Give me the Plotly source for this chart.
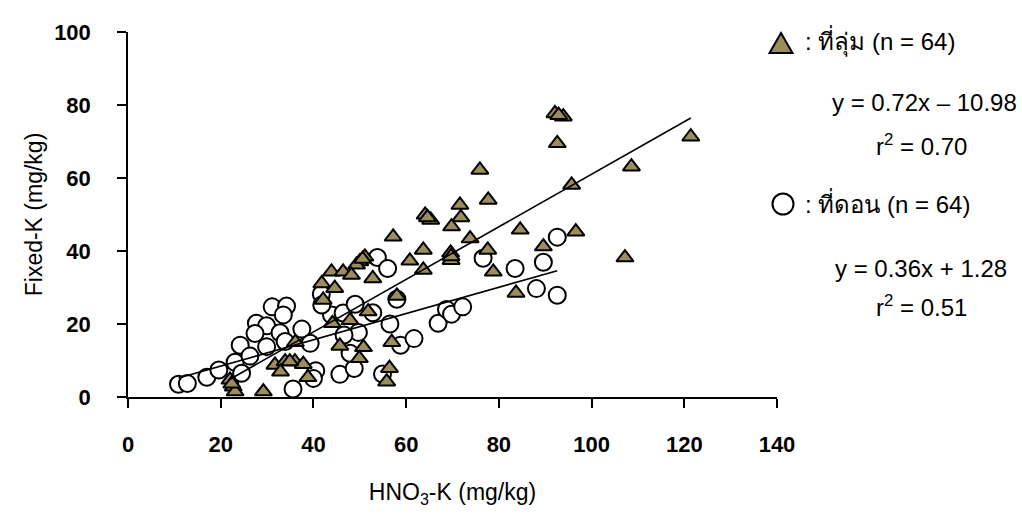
import plotly.graph_objects as go

# ---- data ----
low_x = [92.1, 93.9, 92.6, 121.4, 108.6, 95.7, 75.9, 77.7, 71.6, 71.8, 64.1, 65.3, 69.8, 84.6, 96.6,
         73.8, 57.2, 89.6, 63.7, 77.6, 69.6, 69.7, 60.8, 107.2, 63.7, 78.8, 83.7, 51.1, 50.0, 49.3,
         43.9, 46.4, 48.2, 52.8, 41.8, 44.6, 42.1, 58.0, 51.8, 44.1, 47.9, 56.9, 45.7, 50.8, 49.9,
         56.4, 55.8, 36.1, 31.7, 33.9, 32.9, 36.0, 37.8, 38.8, 22.0, 22.7, 23.1, 29.2,
         22.4, 50.6, 92.9, 64.6, 34.9, 69.7]
low_y = [77.7, 76.8, 69.5, 71.3, 63.1, 58.1, 62.2, 54.0, 52.6, 49.2, 49.9, 48.5, 46.7, 45.8, 45.3,
         43.4, 43.9, 41.2, 40.3, 40.3, 39.5, 37.5, 37.3, 38.2, 34.8, 34.3, 28.5, 38.4, 37.1, 36.2,
         34.3, 34.3, 33.4, 32.5, 31.1, 29.8, 26.6, 27.7, 23.4, 20.2, 21.0, 15.0, 14.0, 13.6, 10.6,
         7.9, 4.2, 15.0, 8.8, 9.7, 6.9, 9.7, 9.0, 5.4, 4.7, 2.8, 1.5, 1.5,
         3.6, 37.8, 77.2, 49.2, 9.7, 38.5]

up_x = [10.9, 12.8, 17.0, 19.6, 23.1, 24.2, 24.5, 26.3, 27.7, 29.9, 31.1, 34.2, 33.5, 32.8, 29.9,
        27.4, 33.9, 35.6, 37.5, 39.3, 40.5, 40.0, 45.7, 48.8, 54.9, 47.9, 43.9, 46.4, 49.0, 52.8,
        49.7, 46.6, 56.5, 58.8, 61.7, 41.7, 41.8, 53.8, 56.0, 58.0, 66.9, 68.7, 69.8, 72.2, 76.6,
        83.5, 88.1, 89.6, 92.6, 92.6]
up_y = [3.5, 3.7, 5.4, 7.4, 9.5, 14.2, 6.5, 11.2, 20.2, 19.5, 24.7, 24.9, 22.5, 17.6, 13.8,
        17.4, 15.2, 2.2, 18.6, 14.7, 7.2, 5.1, 6.2, 7.8, 6.3, 12.0, 22.5, 23.0, 25.4, 23.1,
        17.7, 17.0, 20.0, 14.2, 16.0, 28.2, 25.2, 38.2, 35.2, 26.8, 20.2, 24.0, 22.7, 24.7, 38.0,
        35.2, 29.7, 36.9, 43.8, 27.9]

low_fit = (0.72, -10.98)   # slope, intercept
up_fit = (0.36, 1.28)

x_ticks = [0, 20, 40, 60, 80, 100, 120, 140]
y_ticks = [0, 20, 40, 60, 80, 100]

OLIVE = "#9A8E5C"

fig = go.Figure()

fig.add_trace(go.Scatter(
    x=up_x, y=up_y, mode="markers", cliponaxis=False,
    marker=dict(symbol="circle", size=17, color="white", line=dict(color="black", width=2)),
    showlegend=False))
fig.add_trace(go.Scatter(
    x=low_x, y=low_y, mode="markers", cliponaxis=False,
    marker=dict(symbol="triangle-up", size=15, color=OLIVE, line=dict(color="black", width=2)),
    showlegend=False))

for xs, (m, b) in ((low_x, low_fit), (up_x, up_fit)):
    x0, x1 = min(xs), max(xs)
    fig.add_trace(go.Scatter(
        x=[x0, x1], y=[m * x0 + b, m * x1 + b], mode="lines", cliponaxis=False,
        line=dict(color="black", width=1.6), showlegend=False))

font_fam = "Liberation Sans, Arial, sans-serif"

fig.update_layout(
    width=1022, height=515,
    margin=dict(l=128, r=245, t=32, b=118),
    paper_bgcolor="white", plot_bgcolor="white",
    font=dict(family=font_fam, color="black"),
    xaxis=dict(
        range=[0, 140], tickvals=x_ticks, ticktext=[str(v) for v in x_ticks],
        showgrid=False, zeroline=False, showline=True, linecolor="black", linewidth=1.5,
        ticks="outside", ticklen=9, tickwidth=1.5, tickcolor="black",
        tickfont=dict(size=22, family=font_fam, weight="bold"),
        ticklabelstandoff=18,
        title=dict(text="HNO<sub>3</sub>-K (mg/kg)", font=dict(size=23, family=font_fam), standoff=28),
    ),
    yaxis=dict(
        range=[0, 100], tickvals=y_ticks, ticktext=[str(v) for v in y_ticks],
        showgrid=False, zeroline=False, showline=True, linecolor="black", linewidth=1.5,
        ticks="outside", ticklen=9, tickwidth=1.5, tickcolor="black",
        tickfont=dict(size=22, family=font_fam, weight="bold"),
        ticklabelstandoff=22,
        title=dict(text="Fixed-K (mg/kg)", font=dict(size=23, family=font_fam), standoff=5),
    ),
)

# legend keys (paper coordinates)
def px2paper(px, py):
    return (px - 128) / (777 - 128), (397 - py) / (397 - 32)

tx, ty = px2paper(781, 43)
w = 23 / 649
h = 20 / 365
fig.add_shape(type="path", xref="paper", yref="paper",
              path=f"M {tx - w/2},{ty - h/2} L {tx + w/2},{ty - h/2} L {tx},{ty + h/2} Z",
              fillcolor=OLIVE, line=dict(color="black", width=2))
cx, cy = px2paper(783, 204)
rx = 10.5 / 649
ry = 10.5 / 365
fig.add_shape(type="circle", xref="paper", yref="paper",
              x0=cx - rx, x1=cx + rx, y0=cy - ry, y1=cy + ry,
              fillcolor="white", line=dict(color="black", width=2))

def ann(text, px, py, anchor="left"):
    x, y = px2paper(px, py)
    fig.add_annotation(text=text, x=x, y=y, xref="paper", yref="paper",
                       xanchor=anchor, yanchor="middle", showarrow=False,
                       font=dict(size=24, family=font_fam, color="black"))

ann(": ที่ลุ่ม (n = 64)", 803, 41)
ann("y = 0.72x – 10.98", 1019, 103, "right")
ann("r<sup>2</sup> = 0.70", 969, 145, "right")
ann(": ที่ดอน (n = 64)", 803, 203)
ann("y = 0.36x + 1.28", 1009, 268, "right")
ann("r<sup>2</sup> = 0.51", 969, 306, "right")

fig.write_html("out.html", config={"displayModeBar": False},
               post_script="document.body.style.margin='0';")
